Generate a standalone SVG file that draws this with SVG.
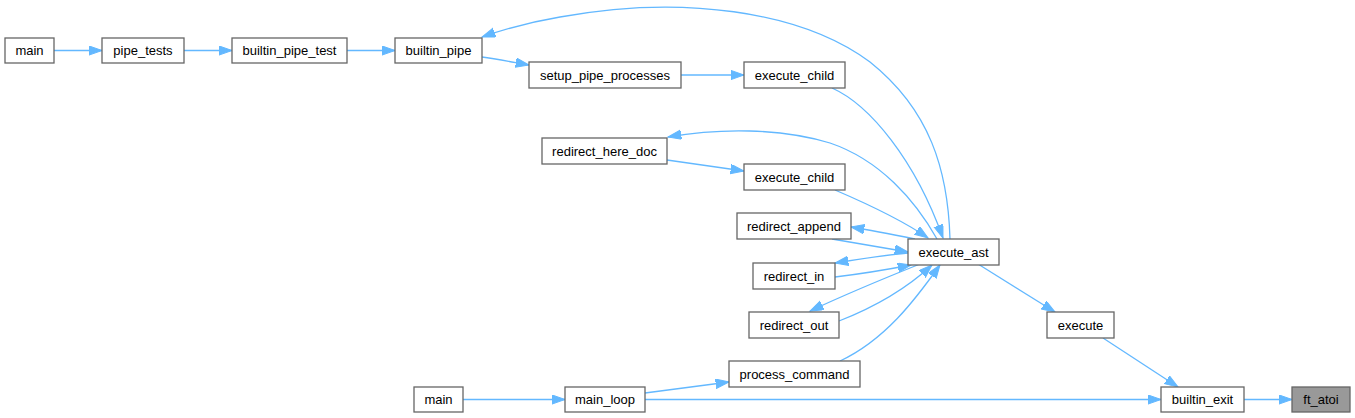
<svg xmlns="http://www.w3.org/2000/svg" width="1355" height="418" viewBox="0 0 1355 418">
<style>
.n rect{fill:#ffffff;stroke:#666666;stroke-width:1.3}
.n.hl rect{fill:#999999}
.n text{font-family:"Liberation Sans",Arial,sans-serif;font-size:13px;fill:#000000;text-anchor:middle}
.e path{fill:none;stroke:#63b8ff;stroke-width:1.3;marker-end:url(#ah)}
</style>
<defs>
<marker id="ah" markerWidth="15" markerHeight="11" refX="13.3" refY="4.7" orient="auto" markerUnits="userSpaceOnUse">
<path d="M0,0 L13.3,4.7 L0,9.4 z" fill="#63b8ff" stroke="#63b8ff" stroke-width="1"/>
</marker>
</defs>
<rect width="1355" height="418" fill="#ffffff"/>
<g id="edges" class="e">
<path d="M54,50.5 L102,50.5"/>
<path d="M184,50.5 L232,50.5"/>
<path d="M347,50.5 L395,50.5"/>
<path d="M482,57 C497,59 512,62 529,65"/>
<path d="M681,75 L744,75"/>
<path d="M950,239 C948,170 930,110 870,62 C800,10 680,-5 560,17 C530,22 505,29 482,37"/>
<path d="M832,88 C870,105 915,160 943,238"/>
<path d="M937,239 C915,200 880,160 830,143 C780,128 720,128 668,137"/>
<path d="M667,160 L744,171"/>
<path d="M835,190 C870,205 905,222 928,238"/>
<path d="M915,239 C895,235 875,231 851,227"/>
<path d="M832,239 C860,244 885,248 908,252"/>
<path d="M908,253 C885,255 860,259 835,263"/>
<path d="M835,277 C860,274 885,270 911,265"/>
<path d="M920,264 C880,280 840,297 810,311"/>
<path d="M839,321 C875,307 905,290 932,265"/>
<path d="M840,361 C885,340 915,300 940,265"/>
<path d="M978,264 L1055,312"/>
<path d="M1103,338 L1178,387"/>
<path d="M1244,399.5 L1292,399.5"/>
<path d="M645,399.5 L1161,399.5"/>
<path d="M463,399.5 L565,399.5"/>
<path d="M645,393 L729,382"/>
</g>
<g id="main1" class="n"><rect x="5" y="38" width="49" height="25"/><text x="29.5" y="55">main</text></g>
<g id="pipe_tests" class="n"><rect x="102" y="38" width="82" height="25"/><text x="143" y="55">pipe_tests</text></g>
<g id="builtin_pipe_test" class="n"><rect x="232" y="38" width="115" height="25"/><text x="289.5" y="55">builtin_pipe_test</text></g>
<g id="builtin_pipe" class="n"><rect x="395" y="38" width="87" height="25"/><text x="438.5" y="55">builtin_pipe</text></g>
<g id="setup_pipe_processes" class="n"><rect x="529" y="62" width="152" height="26"/><text x="605" y="79.5">setup_pipe_processes</text></g>
<g id="execute_child1" class="n"><rect x="744" y="62" width="101" height="26"/><text x="794.5" y="79.5">execute_child</text></g>
<g id="redirect_here_doc" class="n"><rect x="542" y="138" width="125" height="26"/><text x="604.5" y="155.5">redirect_here_doc</text></g>
<g id="execute_child2" class="n"><rect x="744" y="164" width="101" height="26"/><text x="794.5" y="181.5">execute_child</text></g>
<g id="redirect_append" class="n"><rect x="737" y="213" width="114" height="26"/><text x="794" y="230.5">redirect_append</text></g>
<g id="execute_ast" class="n"><rect x="908" y="239" width="91" height="26"/><text x="953.5" y="256.5">execute_ast</text></g>
<g id="redirect_in" class="n"><rect x="753" y="263" width="82" height="26"/><text x="794" y="280.5">redirect_in</text></g>
<g id="redirect_out" class="n"><rect x="749" y="312" width="90" height="26"/><text x="794" y="329.5">redirect_out</text></g>
<g id="process_command" class="n"><rect x="729" y="361" width="131" height="26"/><text x="794.5" y="378.5">process_command</text></g>
<g id="execute" class="n"><rect x="1047" y="312" width="67" height="26"/><text x="1080.5" y="329.5">execute</text></g>
<g id="main2" class="n"><rect x="414" y="387" width="49" height="25"/><text x="438.5" y="404">main</text></g>
<g id="main_loop" class="n"><rect x="565" y="387" width="80" height="25"/><text x="605" y="404">main_loop</text></g>
<g id="builtin_exit" class="n"><rect x="1161" y="387" width="83" height="25"/><text x="1202.5" y="404">builtin_exit</text></g>
<g id="ft_atoi" class="n hl"><rect x="1292" y="387" width="58" height="25"/><text x="1321" y="404">ft_atoi</text></g>
</svg>
